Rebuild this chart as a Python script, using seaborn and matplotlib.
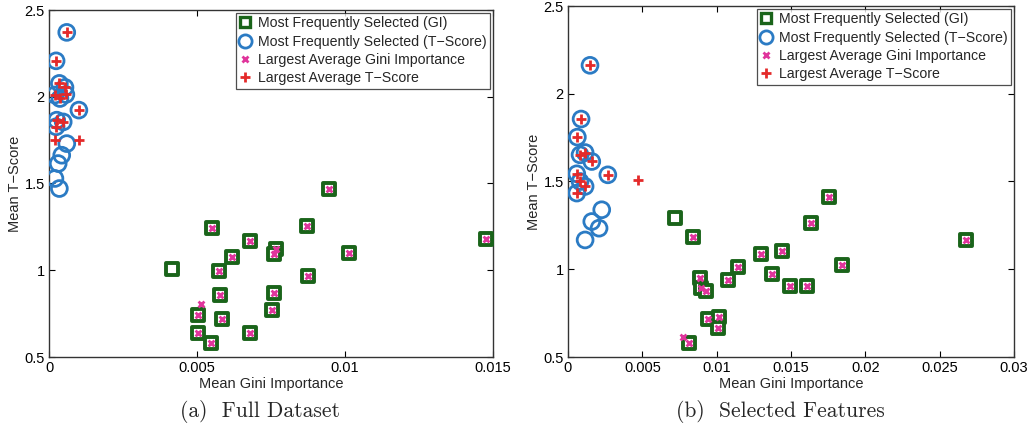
import matplotlib
matplotlib.use("Agg")
import matplotlib.pyplot as plt
from matplotlib.lines import Line2D
import seaborn as sns

# ---------------- data: (a) Full Dataset ----------------
a_gi_sel_x = [0.00945, 0.00549, 0.00872, 0.00678, 0.00766, 0.00760, 0.00618, 0.01012, 0.01478,
              0.00414, 0.00573, 0.00875, 0.00577, 0.00760, 0.00502, 0.00753, 0.00585, 0.00504,
              0.00678, 0.00546]
a_gi_sel_y = [1.470, 1.244, 1.253, 1.169, 1.121, 1.095, 1.077, 1.100, 1.179,
              1.007, 0.998, 0.967, 0.855, 0.869, 0.740, 0.769, 0.717, 0.640,
              0.640, 0.582]
a_gi_avg_x = [0.00945, 0.00549, 0.00872, 0.00678, 0.00766, 0.00760, 0.00618, 0.01012, 0.01478,
              0.00515, 0.00573, 0.00875, 0.00577, 0.00760, 0.00502, 0.00753, 0.00585, 0.00504,
              0.00678, 0.00546]
a_gi_avg_y = [1.470, 1.244, 1.253, 1.169, 1.121, 1.095, 1.077, 1.100, 1.179,
              0.804, 0.998, 0.967, 0.855, 0.869, 0.740, 0.769, 0.717, 0.640,
              0.640, 0.582]
a_t_sel_x = [0.00060, 0.00024, 0.00035, 0.00054, 0.00020, 0.00037, 0.00057, 0.00101, 0.00026,
             0.00048, 0.00024, 0.00060, 0.00043, 0.00031, 0.00020, 0.00035]
a_t_sel_y = [2.371, 2.207, 2.077, 2.054, 2.010, 1.990, 2.013, 1.923, 1.865,
             1.855, 1.827, 1.730, 1.663, 1.615, 1.529, 1.471]
a_t_avg_x = [0.00060, 0.00024, 0.00035, 0.00054, 0.00020, 0.00037, 0.00057, 0.00101, 0.00026,
             0.00048, 0.00024, 0.00020, 0.00102]
a_t_avg_y = [2.371, 2.207, 2.077, 2.054, 2.010, 1.990, 2.013, 1.923, 1.865,
             1.855, 1.827, 1.750, 1.750]

# ---------------- data: (b) Selected Features ----------------
b_gi_sel_x = [0.00717, 0.00841, 0.01755, 0.01637, 0.02677, 0.01301, 0.01441, 0.01144, 0.01841,
              0.01373, 0.01077, 0.00885, 0.00897, 0.00931, 0.01492, 0.01605, 0.00942, 0.01013,
              0.01007, 0.00811]
b_gi_sel_y = [1.291, 1.186, 1.409, 1.263, 1.167, 1.086, 1.105, 1.015, 1.025,
              0.973, 0.939, 0.949, 0.892, 0.878, 0.905, 0.905, 0.717, 0.730,
              0.667, 0.578]
b_gi_avg_x = [0.00773, 0.00841, 0.01755, 0.01637, 0.02677, 0.01301, 0.01441, 0.01144, 0.01841,
              0.01373, 0.01077, 0.00885, 0.00897, 0.00931, 0.01492, 0.01605, 0.00942, 0.01013,
              0.01007, 0.00811]
b_gi_avg_y = [0.612, 1.186, 1.409, 1.263, 1.167, 1.086, 1.105, 1.015, 1.025,
              0.973, 0.939, 0.949, 0.892, 0.878, 0.905, 0.905, 0.717, 0.730,
              0.667, 0.578]
b_t_sel_x = [0.00148, 0.00088, 0.00063, 0.00081, 0.00115, 0.00160, 0.00268, 0.00059, 0.00081,
             0.00115, 0.00059, 0.00227, 0.00160, 0.00209, 0.00115]
b_t_sel_y = [2.162, 1.856, 1.753, 1.652, 1.665, 1.614, 1.538, 1.544, 1.500,
             1.472, 1.434, 1.339, 1.272, 1.234, 1.167]
b_t_avg_x = [0.00148, 0.00088, 0.00063, 0.00081, 0.00115, 0.00160, 0.00268, 0.00059, 0.00081,
             0.00115, 0.00059, 0.00474]
b_t_avg_y = [2.162, 1.856, 1.753, 1.652, 1.665, 1.614, 1.538, 1.544, 1.500,
             1.472, 1.434, 1.510]

legend_labels = ["Most Frequently Selected (GI)", "Most Frequently Selected (T\u2212Score)",
                 "Largest Average Gini Importance", "Largest Average T\u2212Score"]
a_xticks = [0, 0.005, 0.01, 0.015]
a_xticklabels = ["0", "0.005", "0.01", "0.015"]
b_xticks = [0, 0.005, 0.01, 0.015, 0.02, 0.025, 0.03]
b_xticklabels = ["0", "0.005", "0.01", "0.015", "0.02", "0.025", "0.03"]
yticks = [0.5, 1, 1.5, 2, 2.5]
yticklabels = ["0.5", "1", "1.5", "2", "2.5"]
captions = ["(a)  Full Dataset", "(b)  Selected Features"]

GREEN = "#1a641a"
BLUE = "#2b7bc4"
PINK = "#e0359c"
RED = "#e42a2a"

sns.set_style("white")
plt.rcParams["font.family"] = ["Liberation Sans", "DejaVu Sans"]

fig = plt.figure(figsize=(10.31, 4.40), dpi=100)
ax_a = fig.add_axes([49 / 1031, 1 - 357 / 440, 444 / 1031, 347 / 440])
ax_b = fig.add_axes([568 / 1031, 1 - 357 / 440, 446 / 1031, 351 / 440])


def draw(ax, gsx, gsy, gax, gay, tsx, tsy, tax, tay, xmax, xt, xtl):
    sns.scatterplot(x=gsx, y=gsy, ax=ax, marker="s", s=78, facecolor="white",
                    edgecolor=GREEN, linewidth=2.8, zorder=3)
    sns.scatterplot(x=tsx, y=tsy, ax=ax, marker="o", s=130, facecolor="none",
                    edgecolor=BLUE, linewidth=2.0, zorder=3)
    sns.scatterplot(x=gax, y=gay, ax=ax, marker="x", s=18, color=PINK,
                    linewidth=2.0, zorder=4)
    sns.scatterplot(x=tax, y=tay, ax=ax, marker="+", s=55, color=RED,
                    linewidth=2.0, zorder=4)
    ax.set_xlim(0, xmax)
    ax.set_ylim(0.5, 2.5)
    ax.set_xticks(xt)
    ax.set_xticklabels(xtl, fontsize=10.5)
    ax.set_yticks(yticks)
    ax.set_yticklabels(yticklabels, fontsize=10.5)
    ax.tick_params(direction="in", length=4, width=0.8, top=True, right=True,
                   bottom=True, left=True, pad=3, colors="black")
    for sp in ax.spines.values():
        sp.set_color("#333333")
        sp.set_linewidth(1.0)
    ax.set_xlabel("Mean Gini Importance", fontsize=10.5, labelpad=1)
    ax.set_ylabel("Mean T\u2212Score", fontsize=10.5, labelpad=2)
    handles = [
        Line2D([], [], ls="none", marker="s", ms=7.5, mfc="white", mec=GREEN, mew=2.4),
        Line2D([], [], ls="none", marker="o", ms=9.5, mfc="none", mec=BLUE, mew=2.0),
        Line2D([], [], ls="none", marker="x", ms=5, color=PINK, mew=2.0),
        Line2D([], [], ls="none", marker="+", ms=7, color=RED, mew=2.0),
    ]
    leg = ax.legend(handles, legend_labels, loc="upper right", fontsize=10.2,
                    frameon=True, fancybox=False, edgecolor="#222222",
                    borderaxespad=0.2, handlelength=0.8, handletextpad=0.5,
                    labelspacing=0.3, borderpad=0.25)
    leg.get_frame().set_linewidth(0.9)


draw(ax_a, a_gi_sel_x, a_gi_sel_y, a_gi_avg_x, a_gi_avg_y, a_t_sel_x, a_t_sel_y,
     a_t_avg_x, a_t_avg_y, 0.015, a_xticks, a_xticklabels)
draw(ax_b, b_gi_sel_x, b_gi_sel_y, b_gi_avg_x, b_gi_avg_y, b_t_sel_x, b_t_sel_y,
     b_t_avg_x, b_t_avg_y, 0.03, b_xticks, b_xticklabels)

fig.text(260 / 1031, 1 - 411 / 440, captions[0], ha="center", va="center",
         fontsize=15.5, family=["cmr10", "DejaVu Serif"])
fig.text(780 / 1031, 1 - 411 / 440, captions[1], ha="center", va="center",
         fontsize=15.5, family=["cmr10", "DejaVu Serif"])

fig.savefig("out.png", dpi=100)
